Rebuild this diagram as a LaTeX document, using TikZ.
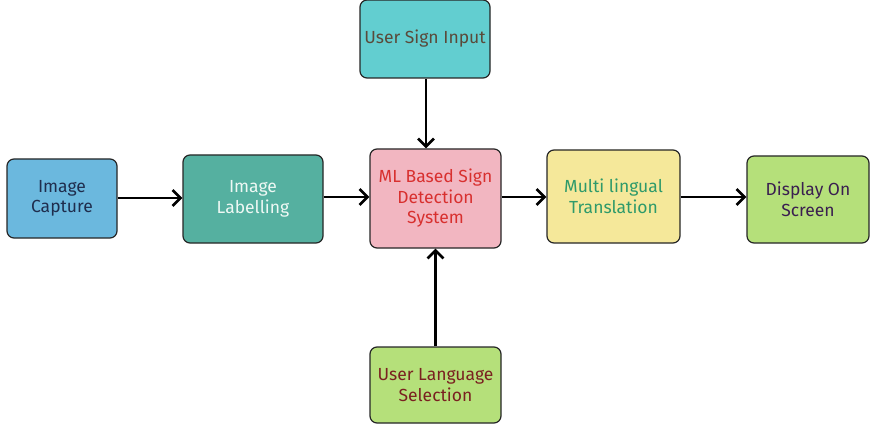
\documentclass[tikz,border=0pt]{standalone}
\usepackage{fontspec}
\setmainfont{Fira Sans}
\usetikzlibrary{arrows.meta}
\definecolor{cCap}{HTML}{6BB8DE}
\definecolor{tCap}{HTML}{1F2D4D}
\definecolor{cLab}{HTML}{55B0A0}
\definecolor{tLab}{HTML}{EEF8F4}
\definecolor{cML}{HTML}{F2B6C1}
\definecolor{tML}{HTML}{D8302F}
\definecolor{cUSI}{HTML}{62CED0}
\definecolor{tUSI}{HTML}{5A4A3A}
\definecolor{cMul}{HTML}{F5E89A}
\definecolor{tMul}{HTML}{2E9A6A}
\definecolor{cDis}{HTML}{B5E07A}
\definecolor{tDis}{HTML}{3A1F50}
\definecolor{tLang}{HTML}{7A2020}
\tikzset{
  boxnode/.style={draw=black!85, line width=1.2pt, rounded corners=7pt, align=center,
    font=\fontsize{17.5}{20.5}\selectfont, inner sep=0pt},
  conn/.style={line width=2.8pt, -{Straight Barb[length=8pt,width=16pt,line width=2.6pt]}}
}
\begin{document}
\begin{tikzpicture}[x=1pt,y=-1pt]
\useasboundingbox (0,0) rectangle (870,425);
\node[boxnode, fill=cCap, text=tCap, minimum width=110pt, minimum height=79pt] (cap) at (62,198.5) {Image\\Capture};
\node[boxnode, fill=cLab, text=tLab, minimum width=140pt, minimum height=88pt] (lab) at (253,199) {Image\\Labelling};
\node[boxnode, fill=cML, text=tML, minimum width=131pt, minimum height=99pt] (ml) at (435.5,198.5) {ML Based Sign\\Detection\\System};
\node[boxnode, fill=cUSI, text=tUSI, minimum width=130pt, minimum height=78pt] (usi) at (425,39) {User Sign Input};
\node[boxnode, fill=cMul, text=tMul, minimum width=133pt, minimum height=93pt] (mul) at (613.5,196.5) {Multi lingual\\Translation};
\node[boxnode, fill=cDis, text=tDis, minimum width=122pt, minimum height=87pt] (dis) at (808,199.5) {Display On\\Screen};
\node[boxnode, fill=cDis, text=tLang, minimum width=131pt, minimum height=76pt] (lang) at (435.5,385) {User Language\\Selection};
\draw[conn] (cap.east |- 0,198) -- (lab.west |- 0,198);
\draw[conn] (lab.east |- 0,197) -- (ml.west |- 0,197);
\draw[conn] (ml.east |- 0,197) -- (mul.west |- 0,197);
\draw[conn] (mul.east |- 0,197) -- (dis.west |- 0,197);
\draw[conn] (usi.south -| 426,0) -- (ml.north -| 426,0);
\draw[conn] (lang.north) -- (ml.south);
\end{tikzpicture}
\end{document}
